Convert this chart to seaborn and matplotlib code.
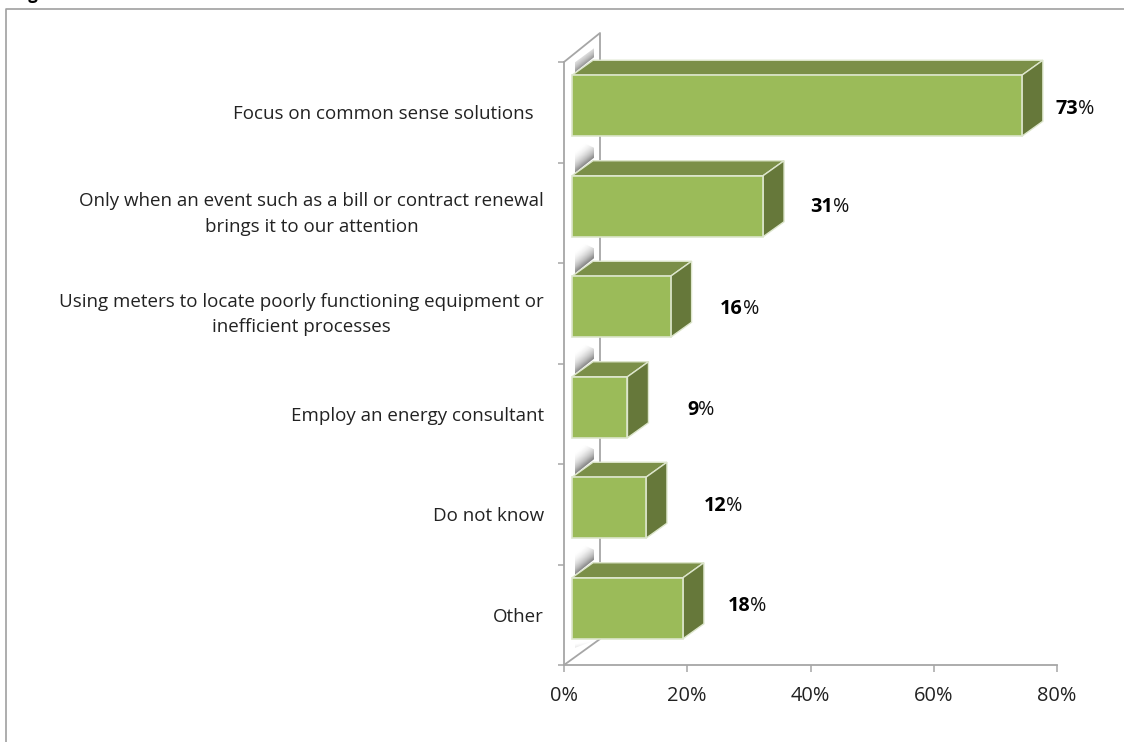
import numpy as np
import matplotlib
matplotlib.use("Agg")
import matplotlib.pyplot as plt
import seaborn as sns
from matplotlib.patches import Polygon
from matplotlib.transforms import Affine2D, IdentityTransform

categories = [
    "Focus on common sense solutions  ",
    "Only when an event such as a bill or contract renewal\nbrings it to our attention",
    "Using meters to locate poorly functioning equipment or\ninefficient processes",
    "Employ an energy consultant",
    "Do not know",
    "Other",
]
shares = [73, 31, 16, 9, 12, 18]
x_ticks = [0, 20, 40, 60, 80]

# Pixel offsets of the value labels from the end of each bar
label_dx = [56, 70, 72, 71, 80, 67]
label_dy = [-3, -1, -2, -3, 2, 2]

FRONT, TOP, SIDE = "#9BBB59", "#7B8F48", "#66783A"
EDGE = "#DDE6CC"
GREY = "#A6A6A6"
DEPTH_X, DEPTH_Y = 21, 15
WALL_X, WALL_Y = 36, 29
W, H = 1124, 742

sns.set_theme(style="white")
plt.rcParams["font.family"] = ["Open Sans", "DejaVu Sans"]

fig = plt.figure(figsize=(W / 100, H / 100), dpi=100)
ax = fig.add_axes([564 / W, 1 - 665 / H, (1057 - 564) / W, (665 - 62) / H])
ax.patch.set_alpha(0)

sns.barplot(x=shares, y=categories, orient="h", color=FRONT, saturation=1,
            width=0.607, edgecolor=EDGE, linewidth=1.2, ax=ax, zorder=5)
ax.set_xlim(0, 80)
ax.set_ylim(5.5, -0.5)
fig.canvas.draw()

ident = IdentityTransform()
shift = Affine2D().translate(8, 6.5)


def face(points, color, z):
    ax.add_patch(Polygon(points, closed=True, transform=ident, facecolor=color,
                         edgecolor=EDGE, linewidth=1.0, zorder=z, clip_on=False))


# Side walls of the 3-D box: front corner, back corner and floor diagonal
x0, y_floor = ax.transData.transform((0, 5.5))
_, y_top = ax.transData.transform((0, -0.5))
wall = [(x0, y_top), (x0 + WALL_X, y_top + WALL_Y), (x0 + WALL_X, y_floor + WALL_Y - 3), (x0, y_floor)]
ax.add_line(plt.Line2D(*zip(*wall), transform=ident, color=GREY, lw=1.3, zorder=1, clip_on=False))

gx, gy = np.meshgrid(np.linspace(0, 1, 40), np.linspace(0, 1, 40))


def smudge(points, peak, slope=0.45, span=0.62, z=1.5):
    # Grey ramp for a wall shadow: darkest along the lower diagonal edge, white towards upper left
    ramp = np.clip(1 - (gy - slope * gx) / span, 0, 1) ** 1.2
    xs, ys = zip(*points)
    im = ax.imshow(ramp * peak, cmap="Greys", vmin=0, vmax=1, aspect="auto",
                   extent=(min(xs), max(xs), min(ys), max(ys)), transform=ident,
                   zorder=z, interpolation="bilinear", origin="lower")
    im.set_clip_path(Polygon(points, closed=True, transform=ident))
    im.set_clip_box(fig.bbox)


# Each bar: shifted front face plus top and side faces and its wall shadow
for i, (bar, value, dx, dy) in enumerate(zip(ax.patches, shares, label_dx, label_dy)):
    (lx, by), (rx, ty) = shift.transform(ax.transData.transform(
        [(0, bar.get_y() + bar.get_height()), (value, bar.get_y())]))
    bar.set_transform(ax.transData + shift)
    bar.set_clip_on(False)
    face([(lx, ty), (lx + DEPTH_X, ty + DEPTH_Y), (rx + DEPTH_X, ty + DEPTH_Y), (rx, ty)], TOP, 4)
    face([(rx, ty), (rx + DEPTH_X, ty + DEPTH_Y), (rx + DEPTH_X, by + DEPTH_Y), (rx, by)], SIDE, 4)
    if i == 0:
        smudge([(lx + 3, ty + 3), (lx + 22, ty + 18), (lx + 22, ty + 27), (lx + 3, ty + 13)],
               0.5, slope=0.62, span=0.8)
    else:
        smudge([(lx + 3, ty + 3), (lx + 22, ty + 18), (lx + 22, ty + 28), (lx + 3, ty + 37)], 0.55)
    if i == len(shares) - 1:
        smudge([(lx + 3, by - 2), (lx + 22, by - 2), (lx + 3, by - 9)], 0.2)

    # Bold figure with a regular percent sign, as two adjoining strings
    tx, ty_mid = rx + dx, (ty + by) / 2 + dy
    ax.text(tx, ty_mid, str(value), transform=ident, ha="right", va="center",
            fontweight="bold", fontsize=14.2, color="black", clip_on=False)
    ax.text(tx, ty_mid, "%", transform=ident, ha="left", va="center",
            fontsize=14.2, color="#111111", clip_on=False)

ax.set_xlim(0, 80)
ax.set_ylim(5.5, -0.5)

for side in ("top", "right"):
    ax.spines[side].set_visible(False)
for side in ("left", "bottom"):
    ax.spines[side].set_color(GREY)
    ax.spines[side].set_linewidth(1.3)

ax.set_xlabel("")
ax.set_ylabel("")
ax.set_xticks(x_ticks, [f"{t}%" for t in x_ticks])
ax.set_yticks(range(len(categories)), categories)
ax.set_yticks(np.arange(-0.5, 6), minor=True)
ax.tick_params(axis="x", which="major", bottom=True, length=5, width=1.1, color=GREY,
               pad=10, labelsize=14.4, labelcolor="#222222")
ax.tick_params(axis="y", which="major", left=False, pad=8.6, labelsize=13.5, labelcolor="#222222")
ax.tick_params(axis="y", which="minor", left=True, length=4.5, width=1.1, color=GREY)
lift = Affine2D().translate(0, 4.5)
for lab in ax.get_yticklabels():
    lab.set_multialignment("center")
    lab.set_linespacing(1.55)
    if "\n" in lab.get_text():
        lab.set_transform(lab.get_transform() + lift)

# Outer chart frame, open along the right and bottom edges of the canvas
frame_x, frame_y = 6 / W, 1 - 9 / H
fig.add_artist(plt.Line2D([frame_x, frame_x, 1], [0, frame_y, frame_y],
                          transform=fig.transFigure, color="#A0A0A0", lw=1.2))

# Heading cut off by the top edge of the canvas
fig.text(38 / W, 1 + 1 / H, "Fig", ha="right", va="baseline",
         fontweight="bold", fontsize=12, color="black")

fig.savefig("out.png", dpi=100, facecolor="white")
